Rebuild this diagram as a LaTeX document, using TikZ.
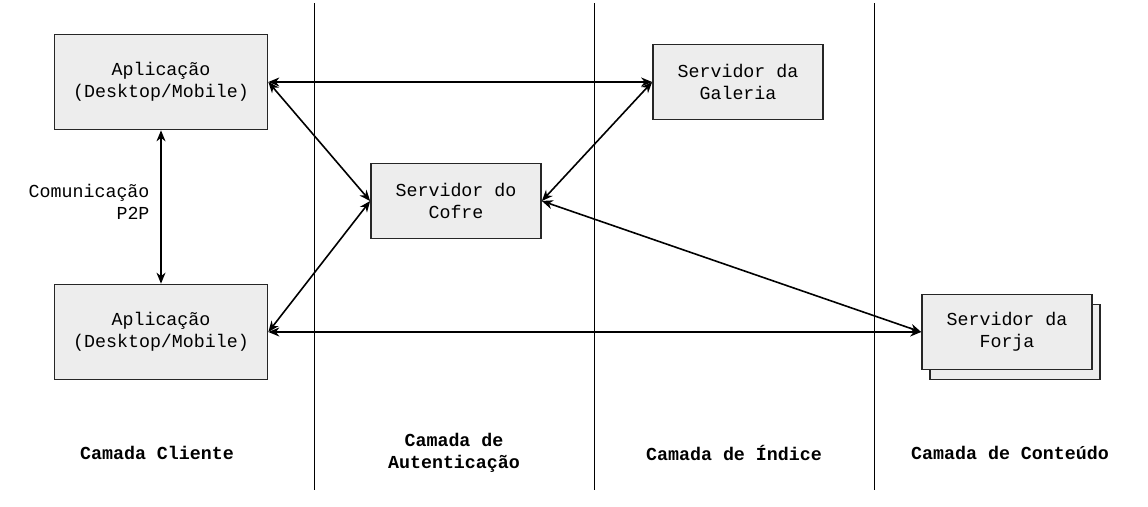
\documentclass[tikz,border=0pt]{standalone}
\usepackage{fontspec}
\setmonofont{Liberation Mono}
\usetikzlibrary{arrows.meta,positioning}
\begin{document}
\begin{tikzpicture}[x=1pt,y=-1pt,
  box/.style={draw=black!85,line width=1.7pt,fill=black!7,inner sep=0pt,align=center,
    minimum width=170pt,minimum height=75pt,font=\ttfamily\fontsize{18.3}{22}\selectfont},
  appbox/.style={box,minimum width=213pt,minimum height=95pt},
  layer/.style={align=center,font=\ttfamily\bfseries\fontsize{18.3}{22}\selectfont},
  link/.style={{Stealth[length=11pt,width=9pt,inset=3.5pt]}-{Stealth[length=11pt,width=9pt,inset=3.5pt]},line width=1.6pt}]
\useasboundingbox (0,0) rectangle (1148,506);
\foreach \x in {314,594,874}
  \draw[line width=1pt] (\x,3) -- (\x,490);
\node[appbox] (app1) at (161,82) {Aplicação\\(Desktop/Mobile)};
\node[appbox] (app2) at (161,332) {Aplicação\\(Desktop/Mobile)};
\node[box] (cofre) at (456,201) {Servidor do\\Cofre};
\node[box] (galeria) at (738,82) {Servidor da\\Galeria};
\node[box] (forjaback) at (1015,342) {};
\node[box] (forja) at (1007,332) {Servidor da\\Forja};
\node[align=right,anchor=east,font=\ttfamily\fontsize{18.3}{22}\selectfont] (p2p) at (153,202) {Comunicação\\P2P};
\draw[link] (app1.south) -- (app2.north);
\draw[link] (app1.east) -- (galeria.west);
\draw[link] (app1.east) -- (cofre.west);
\draw[link] (app2.east) -- (cofre.west);
\draw[link] (cofre.east) -- (galeria.west);
\draw[link] (cofre.east) -- (forja.west);
\draw[link] (app2.east) -- (forja.west);
\node[layer] (cliente) at (157,453) {Camada Cliente};
\node[layer] (autent) at (454,453) {Camada de\\Autenticação};
\node[layer] (indice) at (734,453) {Camada de Índice};
\node[layer] (conteudo) at (1010,453) {Camada de Conteúdo};
\end{tikzpicture}
\end{document}
